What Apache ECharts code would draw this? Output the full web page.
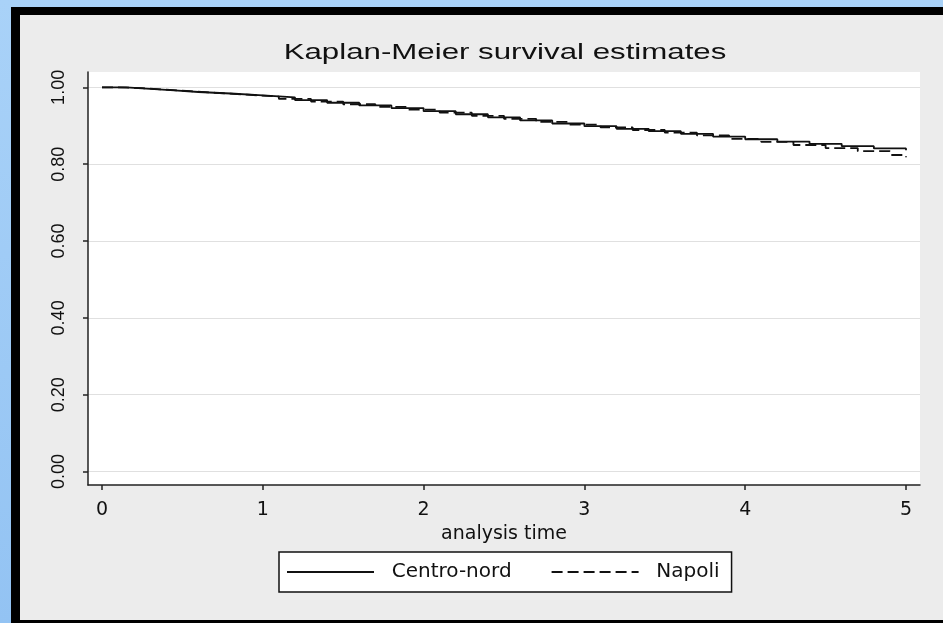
<!DOCTYPE html>
<html>
<head>
<meta charset="utf-8">
<script src="https://cdn.jsdelivr.net/npm/echarts@6/dist/echarts.min.js"></script>
<style>
  html, body { margin: 0; padding: 0; }
  body {
    width: 943px; height: 623px; overflow: hidden; position: relative;
    background: linear-gradient(180deg, #a9d2f8 0%, #93c3f3 100%);
  }
  #frame {
    position: absolute; left: 11px; top: 7px; width: 923px; height: 605px;
    border-left: 9px solid #000; border-top: 8px solid #000; border-bottom: 3px solid #000;
    background: #ececec;
  }
  #main { position: absolute; left: 0; top: 0; width: 943px; height: 623px; }
</style>
</head>
<body>
<div id="frame"></div>
<div id="main"></div>
<script>
  // Kaplan-Meier step curves
  var centroTime = [0, 0.15, 0.3, 0.45, 0.6, 0.8, 1.0, 1.2, 1.4, 1.6, 1.8, 2.0, 2.2, 2.4, 2.6, 2.8, 3.0, 3.2, 3.4, 3.6, 3.8, 4.0, 4.2, 4.4, 4.6, 4.8, 5.0];
  var centroSurv = [1.000, 0.996, 0.992, 0.988, 0.984, 0.979, 0.974, 0.967, 0.960, 0.953, 0.946, 0.938, 0.930, 0.922, 0.914, 0.906, 0.899, 0.892, 0.886, 0.879, 0.872, 0.865, 0.859, 0.853, 0.847, 0.841, 0.836];

  var napoliTime = [0, 0.1, 0.25, 0.4, 0.55, 0.7, 0.9, 1.1, 1.3, 1.5, 1.7, 1.9, 2.1, 2.3, 2.5, 2.7, 2.9, 3.1, 3.3, 3.5, 3.7, 3.9, 4.1, 4.3, 4.5, 4.7, 4.9, 5.0];
  var napoliSurv = [1.000, 0.998, 0.994, 0.990, 0.986, 0.981, 0.976, 0.970, 0.963, 0.956, 0.949, 0.942, 0.934, 0.926, 0.918, 0.910, 0.903, 0.896, 0.889, 0.882, 0.875, 0.866, 0.858, 0.850, 0.842, 0.834, 0.824, 0.818];

  var xTicks = [0, 1, 2, 3, 4, 5];
  var yTicks = [0, 0.2, 0.4, 0.6, 0.8, 1.0];

  function pairs(t, s) {
    var out = [];
    for (var i = 0; i < t.length; i++) out.push([t[i], s[i]]);
    return out;
  }

  var myChart = echarts.init(document.getElementById('main'));
  myChart.setOption({
    backgroundColor: 'transparent',
    animation: false,
    graphic: [{
      type: 'text',
      x: 505,
      y: 42,
      scaleX: 1.42,
      style: {
        text: 'Kaplan-Meier survival estimates',
        font: '22px "Liberation Sans", Arial, sans-serif',
        fill: '#111',
        textAlign: 'center',
        textVerticalAlign: 'top'
      }
    }],
    grid: {
      left: 88, right: 23, top: 72, bottom: 138,
      show: true, backgroundColor: '#fff', borderWidth: 0
    },
    legend: {
      left: 279, top: 552,
      padding: [10, 12, 10, 7],
      itemWidth: 87, itemHeight: 14, itemGap: 39,
      backgroundColor: '#fff',
      borderColor: '#111', borderWidth: 1.5, borderRadius: 0,
      itemStyle: { opacity: 0 },
      formatter: function (name) { return '  ' + name; },
      textStyle: { fontFamily: 'DejaVu Sans', fontSize: 20, color: '#111' },
      data: ['Centro-nord', 'Napoli']
    },
    xAxis: {
      type: 'value',
      min: -0.087, max: 5.087,
      name: 'analysis time',
      nameLocation: 'middle',
      nameGap: 33,
      nameTextStyle: { fontFamily: 'DejaVu Sans', fontSize: 19, color: '#111' },
      axisLine: { show: true, onZero: false, lineStyle: { color: '#222', width: 1.5 } },
      axisTick: { show: true, length: 5, lineStyle: { color: '#222', width: 1.5 }, customValues: xTicks },
      axisLabel: { customValues: xTicks, margin: 16, fontFamily: 'DejaVu Sans', fontSize: 19, color: '#111' },
      splitLine: { show: false }
    },
    yAxis: {
      type: 'value',
      min: -0.035, max: 1.04,
      axisLine: { show: true, onZero: false, lineStyle: { color: '#222', width: 1.5 } },
      axisTick: { show: true, length: 5, lineStyle: { color: '#222', width: 1.5 }, customValues: yTicks },
      axisLabel: {
        customValues: yTicks, rotate: 90, margin: 20,
        fontFamily: 'Liberation Sans', fontSize: 18, color: '#111',
        formatter: function (v) { return v.toFixed(2); }
      },
      splitLine: { show: true, lineStyle: { color: '#e0e0e0', width: 1 } }
    },
    series: [{
      name: 'Centro-nord',
      type: 'line',
      step: 'end',
      symbol: 'none',
      data: pairs(centroTime, centroSurv),
      lineStyle: { color: '#111', width: 1.8, type: 'solid' },
      itemStyle: { color: '#111' }
    }, {
      name: 'Napoli',
      type: 'line',
      step: 'end',
      symbol: 'none',
      data: pairs(napoliTime, napoliSurv),
      lineStyle: { color: '#111', width: 1.8, type: [11, 5] },
      itemStyle: { color: '#111' }
    }]
  });
</script>
</body>
</html>
